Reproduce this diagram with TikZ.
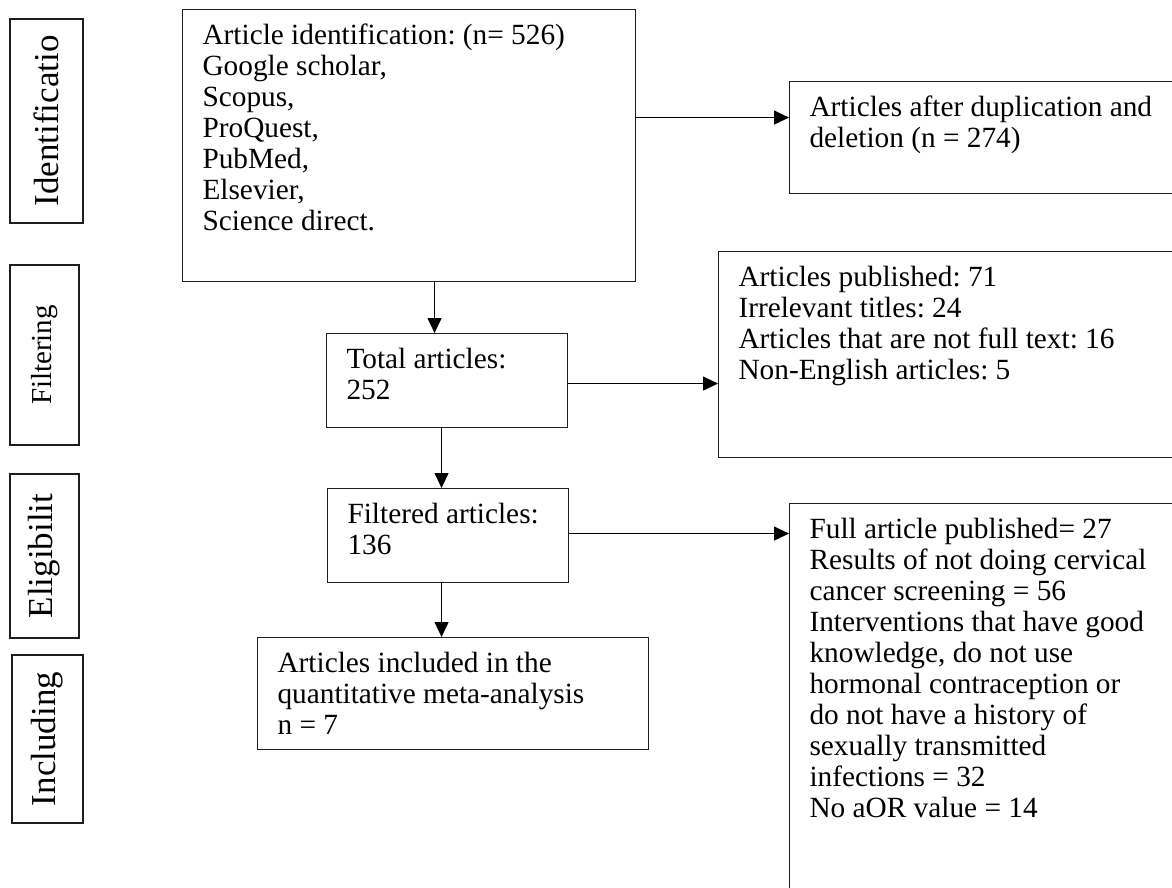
\documentclass[tikz,border=0pt]{standalone}
\usepackage{fontspec}
\setmainfont{Liberation Serif}
\usepackage{tikz}
\usetikzlibrary{arrows.meta}
\definecolor{boxline}{HTML}{1E1E1E}
\newcommand{\boxlines}[3]{\parbox[t][#1][t]{#2}{\raggedright\frenchspacing\strut #3}}

\begin{document}
\begin{tikzpicture}[x=1pt, y=-1pt, font=\fontsize{29.3}{31}\selectfont,
    flowbox/.style={rectangle, draw=boxline, line width=1.1pt, anchor=north west,
      inner xsep=20pt, inner ysep=13.3pt},
    stagebox/.style={rectangle, draw=boxline, line width=1.1pt, rotate=90,
      inner sep=0pt, font=\fontsize{35}{40}\selectfont},
    arr/.style={-{Triangle[length=15pt, width=14pt]}, line width=1.2pt}]

    \path[clip, use as bounding box] (0,0) rectangle (1172,888);

    % stage labels on the left
    \node (idlab) [stagebox, minimum width=204pt, minimum height=73pt] at (46.5,121) {Identificatio};
    \node (filtlab) [stagebox, minimum width=180pt, minimum height=69pt,
      font=\fontsize{29}{33}\selectfont] at (44.5,355) {Filtering};
    \node (eliglab) [stagebox, minimum width=164pt, minimum height=69pt] at (44.5,556) {Eligibilit};
    \node (inclab) [stagebox, minimum width=168pt, minimum height=71pt] at (47.5,739) {Including};

    % flow boxes
    \node (ident) [flowbox] at (182,9) {\boxlines{245.4pt}{413pt}{Article identification: (n= 526)\\
      Google scholar,\\ Scopus,\\ ProQuest,\\ PubMed,\\ Elsevier,\\ Science direct.}};
    \node (dup) [flowbox] at (789,81) {\boxlines{85.4pt}{370pt}{Articles after duplication and\\
      deletion (n = 274)}};
    \node (total) [flowbox] at (326,333) {\boxlines{67.4pt}{201pt}{Total articles:\\ 252}};
    \node (excl) [flowbox] at (718,251) {\boxlines{179.4pt}{440pt}{Articles published: 71\\
      Irrelevant titles: 24\\ Articles that are not full text: 16\\ Non-English articles: 5}};
    \node (filt) [flowbox] at (327,488) {\boxlines{67.4pt}{201pt}{Filtered articles:\\ 136}};
    \node (full) [flowbox] at (789,503) {\boxlines{380pt}{370pt}{Full article published= 27\\
      Results of not doing cervical\\ cancer screening = 56\\ Interventions that have good\\
      knowledge, do not use\\ hormonal contraception or\\ do not have a history of\\
      sexually transmitted\\ infections = 32\\ No aOR value = 14}};
    \node (incl) [flowbox] at (257,637) {\boxlines{85.4pt}{351pt}{Articles included in the\\
      quantitative meta-analysis\\ n = 7}};

    % connectors
    \draw [arr] ([yshift=28pt]ident.east) -- ([yshift=28pt]ident.east -| dup.west);
    \draw [arr] ([xshift=25.5pt]ident.south) -- ([xshift=25.5pt]ident.south |- total.north);
    \draw [arr] ([yshift=-3pt]total.east) -- ([yshift=-3pt]total.east -| excl.west);
    \draw [arr] ([xshift=-5.5pt]total.south) -- ([xshift=-5.5pt]total.south |- filt.north);
    \draw [arr] ([yshift=2pt]filt.east) -- ([yshift=2pt]filt.east -| full.west);
    \draw [arr] ([xshift=-6.5pt]filt.south) -- ([xshift=-6.5pt]filt.south |- incl.north);
\end{tikzpicture}
\end{document}
